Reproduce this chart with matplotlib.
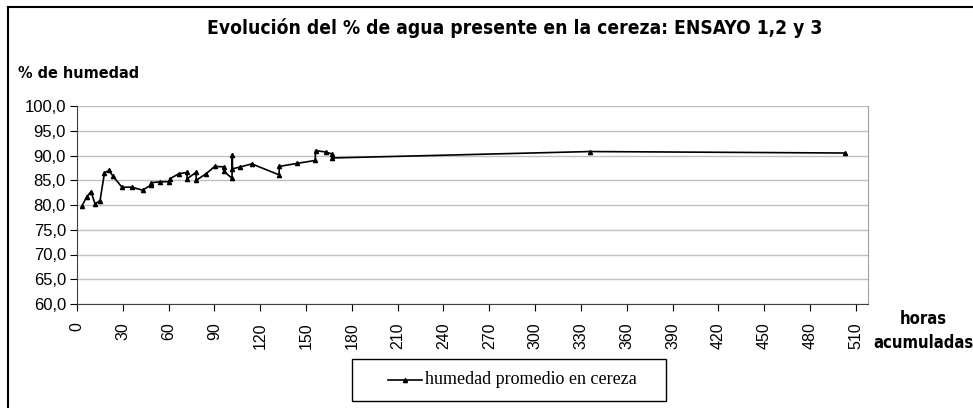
import matplotlib
matplotlib.use("Agg")
import matplotlib.pyplot as plt
from matplotlib.lines import Line2D
from matplotlib.patches import Rectangle
from matplotlib.ticker import FuncFormatter
from matplotlib import font_manager

hours = [3.1, 6.4, 9.2, 11.8, 15.1, 18.0, 21.0, 23.4, 29.4, 35.9, 42.9, 48.4, 48.6,
         54.5, 60.5, 60.8, 66.6, 72.0, 72.1, 78.0, 78.1, 84.5, 90.2, 96.0, 96.2,
         101.5, 101.7, 101.8, 107.0, 114.5, 132.3, 132.5, 144.0, 156.0, 156.2,
         163.0, 167.0, 167.2, 336.0, 503.0]
humedad = [79.7, 81.7, 82.7, 80.2, 80.9, 86.5, 87.0, 85.9, 83.6, 83.6, 83.0, 84.0, 84.5,
           84.7, 84.7, 85.3, 86.3, 86.6, 85.3, 86.6, 85.0, 86.3, 87.8, 87.7, 86.8,
           85.4, 90.1, 87.3, 87.7, 88.3, 86.1, 87.8, 88.4, 89.0, 91.0,
           90.7, 90.3, 89.5, 90.8, 90.5]
x_ticks = list(range(0, 511, 30))
y_ticks = list(range(60, 101, 5))

title = "Evolución del % de agua presente en la cereza: ENSAYO 1,2 y 3"
ylabel = "% de humedad"
xlabel = "horas\nacumuladas"
legend_label = "humedad promedio en cereza"

names = {f.name for f in font_manager.fontManager.ttflist}
narrow_fam = None
for cand in ["Liberation Sans Narrow", "Arial Narrow", "DejaVu Sans Condensed"]:
    if cand in names:
        narrow_fam = cand
        break
narrow = [narrow_fam or "DejaVu Sans", "DejaVu Sans"]
stretch = "condensed"
sans = ["Liberation Sans", "DejaVu Sans"]

W, H = 973, 408
fig = plt.figure(figsize=(W / 100, H / 100), dpi=100)

ax = fig.add_axes([77 / W, 1 - 304 / H, (868 - 77) / W, (304 - 106) / H])
ax.plot(hours, humedad, color="black", lw=1.2, marker="^", ms=3, mfc="black", mec="black")
ax.set_xlim(0, 518)
ax.set_ylim(60, 100)
ax.set_xticks(x_ticks)
ax.set_yticks(y_ticks)
ax.yaxis.set_major_formatter(FuncFormatter(lambda v, p: f"{v:.1f}".replace(".", ",")))
ax.grid(axis="y", color="#c0c0c0", lw=1)
ax.set_axisbelow(True)
ax.spines["top"].set_visible(False)
ax.spines["right"].set_color("#a0a0a0")
ax.spines["left"].set_color("#404040")
ax.spines["bottom"].set_color("#404040")
ax.tick_params(axis="x", direction="out", length=5, rotation=90, labelsize=11.5, pad=8)
ax.tick_params(axis="y", direction="out", length=5, labelsize=12, pad=3)
for lab in ax.get_xticklabels() + ax.get_yticklabels():
    lab.set_family(sans)

fig.text(515 / W, 1 - 28 / H, title, ha="center", va="center", fontsize=13.8,
         fontweight="bold", family=narrow, fontstretch=stretch)
fig.text(18 / W, 1 - 73 / H, ylabel, ha="left", va="center", fontsize=11.6,
         fontweight="bold", family=narrow, fontstretch=stretch)
fig.text(923 / W, 1 - 331 / H, xlabel, ha="center", va="center", fontsize=12,
         fontweight="bold", family=narrow, fontstretch=stretch, linespacing=1.45)

# outer chart frame (left and top edges visible)
fig.add_artist(Line2D([8 / W, 8 / W], [0, 1 - 7 / H], transform=fig.transFigure, color="black", lw=1.5))
fig.add_artist(Line2D([8 / W, 1], [1 - 7 / H, 1 - 7 / H], transform=fig.transFigure, color="black", lw=1.5))

# legend box
fig.add_artist(Rectangle((352 / W, 1 - 401 / H), (666 - 352) / W, (401 - 359) / H,
                         transform=fig.transFigure, fill=False, edgecolor="black", lw=1.0))
fig.add_artist(Line2D([388 / W, 422 / W], [1 - 380 / H] * 2, transform=fig.transFigure,
                      color="black", lw=1.2))
fig.add_artist(Line2D([405 / W], [1 - 380 / H], transform=fig.transFigure, color="black",
                      marker="^", ms=3))
fig.text(425 / W, 1 - 380 / H, legend_label, ha="left", va="center", fontsize=13,
         family=["Liberation Serif", "DejaVu Serif"])

fig.savefig("out.png", dpi=100)
